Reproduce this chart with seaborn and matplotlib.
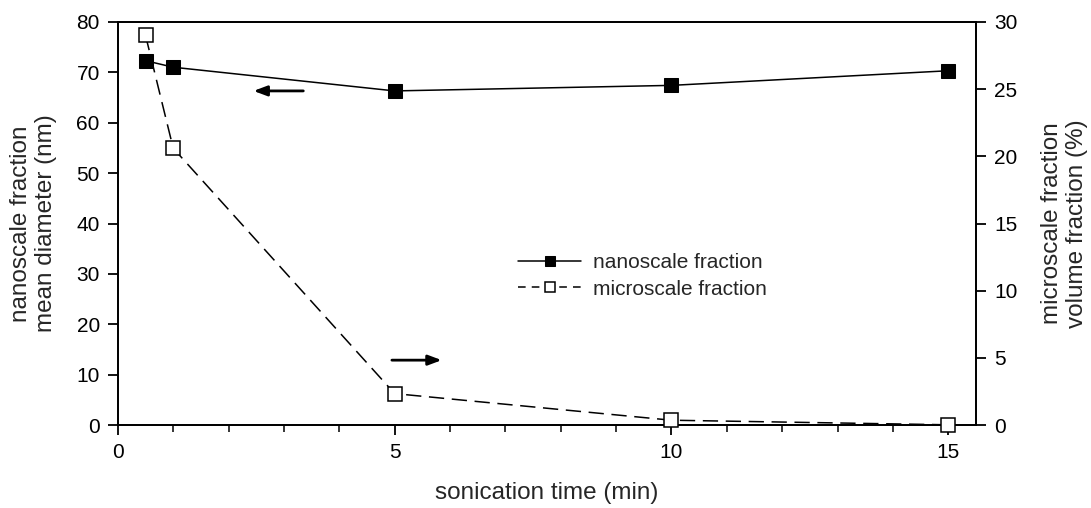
import pandas as pd
import matplotlib
matplotlib.use('Agg')
import matplotlib.pyplot as plt
import seaborn as sns
from matplotlib.ticker import MultipleLocator

sns.set_style("ticks")
plt.rcParams['font.family'] = ['Liberation Sans', 'DejaVu Sans']

# sonication time (min)
time = [0.5, 1, 5, 10, 15]
# nanoscale fraction mean diameter (nm)
nano = [72.3, 71.0, 66.3, 67.4, 70.3]
# microscale fraction volume fraction (%)
micro = [29.0, 20.6, 2.35, 0.37, 0.03]

df = pd.DataFrame({'t': time, 'nano': nano, 'micro': micro})

fig = plt.figure(figsize=(10.91, 5.08), dpi=100)
ax = fig.add_axes([0.108, 0.163, 0.7866, 0.794])
ax2 = ax.twinx()

sns.lineplot(data=df, x='t', y='nano', ax=ax, color='black', lw=1.1,
             marker='s', markersize=10, markerfacecolor='black',
             markeredgecolor='black', label='nanoscale fraction', legend=False)
sns.lineplot(data=df, x='t', y='micro', ax=ax2, color='black', lw=1.1,
             marker='s', markersize=10, markerfacecolor='white',
             markeredgecolor='black', markeredgewidth=1.1,
             label='microscale fraction', legend=False)
ax2.lines[0].set_dashes((10, 5))
ax2.lines[0].set_zorder(3)
ax2.lines[0].set_clip_on(False)

ax.set_xlim(0, 15.5)
ax.set_ylim(0, 80)
ax2.set_ylim(0, 30)
ax.set_xticks([0, 5, 10, 15])
ax.xaxis.set_minor_locator(MultipleLocator(1))
ax.set_yticks(range(0, 81, 10))
ax2.set_yticks(range(0, 31, 5))

for a in (ax, ax2):
    for s in a.spines.values():
        s.set_linewidth(1.3)
        s.set_color('black')
    a.tick_params(axis='both', which='major', length=7, width=1.3,
                  labelsize=15, colors='black', direction='out', pad=6)
    a.tick_params(axis='x', which='minor', length=5, width=1.3, direction='out')

ax.set_xlabel('sonication time (min)', fontsize=17.5, labelpad=14)
ax.set_ylabel('nanoscale fraction\nmean diameter (nm)', fontsize=17.5, labelpad=14)
ax2.set_ylabel('microscale fraction\nvolume fraction (%)', fontsize=17.5,
               rotation=90, labelpad=17)

# arrows pointing to the relevant axis
ax.annotate('', xy=(2.4, 66.3), xytext=(3.4, 66.3),
            arrowprops=dict(arrowstyle='-|>,head_length=0.8,head_width=0.3',
                            color='black', lw=2))
ax.annotate('', xy=(5.9, 12.9), xytext=(4.9, 12.9),
            arrowprops=dict(arrowstyle='-|>,head_length=0.8,head_width=0.3',
                            color='black', lw=2))

h1, l1 = ax.get_legend_handles_labels()
h2, l2 = ax2.get_legend_handles_labels()
leg = ax2.legend(h1 + h2, l1 + l2, loc='center left', bbox_to_anchor=(0.445, 0.37),
                 frameon=False, fontsize=15, handlelength=3, markerscale=0.7,
                 handletextpad=0.6, labelspacing=0.35)
leg.get_lines()[1].set_dashes((5, 4))

fig.savefig('out.png', dpi=100)
